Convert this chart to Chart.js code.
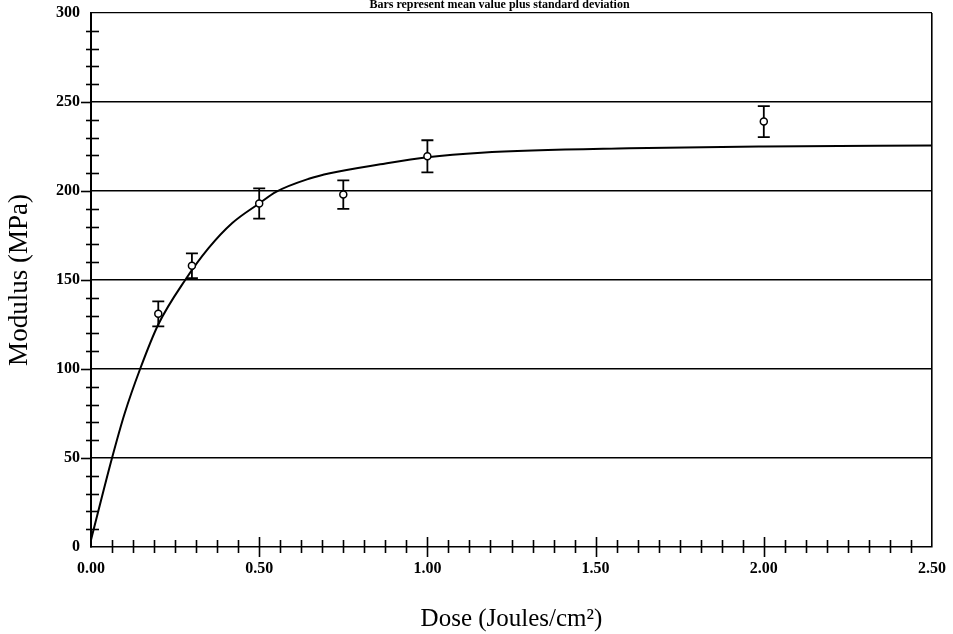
<!DOCTYPE html>
<html><head><meta charset="utf-8">
<script src="https://cdn.jsdelivr.net/npm/chart.js@4.4.1/dist/chart.umd.min.js"></script>
<style>html,body{margin:0;padding:0;background:#fff;} #wrap{width:953px;height:634px;}</style>
</head><body><div id="wrap"><canvas id="c" width="953" height="634"></canvas></div>
<script>
const chartTitle = 'Bars represent mean value plus standard deviation';
const xAxisTitle = 'Dose (Joules/cm²)';
const yAxisTitle = 'Modulus (MPa)';
const doseValues = [0.2, 0.3, 0.5, 0.75, 1.0, 2.0];
const modulusMeans = [131, 158, 193, 198, 219.5, 239];
const modulusSD = [7, 7, 8.5, 8, 9, 8.7];
const fitDose = [0, 0.0625, 0.1, 0.146, 0.2, 0.28, 0.35, 0.42, 0.5, 0.55, 0.65, 0.71, 0.86, 1.0, 1.16, 1.6, 2.0, 2.5];
const fitModulus = [4, 50, 75, 100, 125, 150, 168, 182, 193, 199.5, 207, 210, 215, 219, 221.5, 224, 225, 225.5];
const xTickLabels = ['0.00', '0.50', '1.00', '1.50', '2.00', '2.50'];
const yTickLabels = ['0', '50', '100', '150', '200', '250', '300'];

const FONT = '"Liberation Serif", "Times New Roman", serif';
function labelFor(list, v) {
  const l = list.find(s => Math.abs(parseFloat(s) - v) < 1e-6);
  return l === undefined ? '' : l;
}

const marksPlugin = {
  id: 'marks',
  beforeDatasetsDraw(chart) {
    const {ctx, chartArea: a, scales: {x, y}} = chart;
    ctx.save();
    ctx.strokeStyle = '#000';
    ctx.lineWidth = 1.6;
    y.ticks.forEach(t => {
      if (t.value <= y.min || t.value >= y.max) return;
      const py = Math.round(y.getPixelForValue(t.value)) + 0.5;
      const major = labelFor(yTickLabels, t.value) !== '';
      ctx.beginPath();
      if (major) { ctx.moveTo(a.left - 10, py); ctx.lineTo(a.left, py); }
      else { ctx.moveTo(a.left - 5, py); ctx.lineTo(a.left + 8, py); }
      ctx.stroke();
    });
    x.ticks.forEach(t => {
      if (t.value <= x.min || t.value >= x.max) return;
      const px = Math.round(x.getPixelForValue(t.value)) + 0.5;
      const major = labelFor(xTickLabels, t.value) !== '';
      ctx.beginPath();
      ctx.moveTo(px, a.bottom - (major ? 10 : 7));
      ctx.lineTo(px, a.bottom + (major ? 10 : 6));
      ctx.stroke();
    });
    ctx.lineWidth = 1.8;
    doseValues.forEach((d, i) => {
      const px = x.getPixelForValue(d);
      const top = y.getPixelForValue(modulusMeans[i] + modulusSD[i]);
      const bot = y.getPixelForValue(modulusMeans[i] - modulusSD[i]);
      ctx.beginPath();
      ctx.moveTo(px, top); ctx.lineTo(px, bot);
      ctx.moveTo(px - 6, top); ctx.lineTo(px + 6, top);
      ctx.moveTo(px - 6, bot); ctx.lineTo(px + 6, bot);
      ctx.stroke();
    });
    ctx.restore();
  },
  afterDraw(chart) {
    const {ctx, chartArea: a} = chart;
    ctx.save();
    ctx.fillStyle = '#000';
    ctx.font = 'bold 12px ' + FONT;
    ctx.textAlign = 'center';
    ctx.textBaseline = 'alphabetic';
    ctx.fillText(chartTitle, (a.left + a.right) / 2 - 12, 8);
    ctx.restore();
  }
};

new Chart(document.getElementById('c'), {
  type: 'scatter',
  data: {
    datasets: [
      {
        label: 'Mean modulus',
        data: doseValues.map((d, i) => ({x: d, y: modulusMeans[i]})),
        pointRadius: 3.5,
        pointBorderWidth: 1.5,
        pointBackgroundColor: '#fff',
        pointBorderColor: '#000',
        showLine: false
      },
      {
        type: 'line',
        label: 'Fit',
        data: fitDose.map((d, i) => ({x: d, y: fitModulus[i]})),
        borderColor: '#000',
        borderWidth: 2,
        pointRadius: 0,
        fill: false,
        cubicInterpolationMode: 'monotone'
      }
    ]
  },
  options: {
    responsive: false,
    animation: false,
    devicePixelRatio: 1,
    layout: {padding: {top: 13, right: 21, left: 0, bottom: 0}},
    plugins: {legend: {display: false}, tooltip: {enabled: false}, title: {display: false}},
    scales: {
      x: {
        type: 'linear', min: 0, max: 2.5,
        ticks: {
          stepSize: 0.0625, autoSkip: false, maxRotation: 0, minRotation: 0,
          callback: v => labelFor(xTickLabels, v),
          font: {family: FONT, size: 16, weight: 'bold'}, color: '#000', padding: 4
        },
        grid: {
          color: c => (c.tick && Math.abs(c.tick.value - 2.5) < 1e-9) ? '#000' : 'rgba(0,0,0,0)',
          lineWidth: 1.6, drawTicks: true, tickLength: 8, tickColor: 'rgba(0,0,0,0)'
        },
        border: {display: true, color: '#000', width: 1.6},
        title: {display: true, text: xAxisTitle, color: '#000',
          font: {family: FONT, size: 25}, padding: {top: 0, bottom: 0}},
        afterFit: s => { s.height = 87; }
      },
      y: {
        type: 'linear', min: 0, max: 300,
        ticks: {
          stepSize: 10, autoSkip: false,
          callback: v => labelFor(yTickLabels, v),
          font: {family: FONT, size: 16, weight: 'bold'}, color: '#000', padding: 1
        },
        grid: {
          color: c => (c.tick && c.tick.value > 0 && c.tick.value % 50 === 0) ? '#000' : 'rgba(0,0,0,0)',
          lineWidth: c => (c.tick && c.tick.value === 300) ? 1.2 : 1.6,
          drawTicks: true, tickLength: 10, tickColor: 'rgba(0,0,0,0)'
        },
        border: {display: true, color: '#000', width: 2},
        title: {display: true, text: yAxisTitle, color: '#000',
          font: {family: FONT, size: 27}, padding: {top: 4, bottom: 0}},
        afterFit: s => { s.width = 91; }
      }
    }
  },
  plugins: [marksPlugin]
});
</script>
</body></html>
